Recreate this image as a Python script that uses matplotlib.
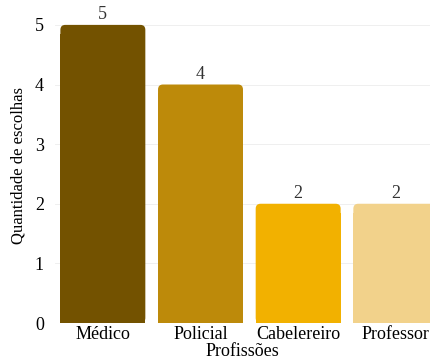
import matplotlib
matplotlib.use("Agg")
import matplotlib.pyplot as plt
from matplotlib.patches import FancyBboxPatch

profissoes = ["Médico", "Policial", "Cabelereiro", "Professor"]
escolhas = [5, 4, 2, 2]
cores = ["#735200", "#bd8a0a", "#f2b100", "#f2d28b"]

plt.rcParams['font.family'] = ['Liberation Serif', 'DejaVu Serif']

fig = plt.figure(figsize=(4.30, 3.63), dpi=100)
ax = fig.add_axes([55/430, 40/363, 1 - 55/430, 316/363])

larg = 0.87
raio = 0.05
barras = ax.bar(range(len(profissoes)), escolhas, width=larg, color=cores, zorder=2)

# cantos superiores arredondados
for b, c in zip(barras, cores):
    x, w, h = b.get_x(), b.get_width(), b.get_height()
    b.set_height(h - 0.15)
    caixa = FancyBboxPatch((x, 0), w, h, boxstyle=f"round,pad=0,rounding_size={raio}",
                           mutation_aspect=1.68, facecolor=c, edgecolor="none", zorder=2)
    ax.add_patch(caixa)
    ax.annotate(str(h), (x + w / 2, h), xytext=(0, 1), textcoords="offset points",
                ha="center", va="bottom", fontsize=13, color="#333333")

ax.set_xlim(-0.49, 3.35)
ax.set_ylim(0, 5.3)
ax.set_yticks(range(0, 6))
ax.set_xticks(range(len(profissoes)))
ax.set_xticklabels(profissoes)
ax.tick_params(length=0, labelsize=13, colors="black", pad=2)
ax.tick_params(axis="y", pad=8)
ax.grid(axis="y", color="#ececec", linewidth=0.6, zorder=0)
for s in ax.spines.values():
    s.set_visible(False)

ax.set_xlabel("Profissões", fontsize=13, labelpad=0)
ax.set_ylabel("Quantidade de escolhas", fontsize=12, labelpad=6)

fig.savefig("out.png", dpi=100)
